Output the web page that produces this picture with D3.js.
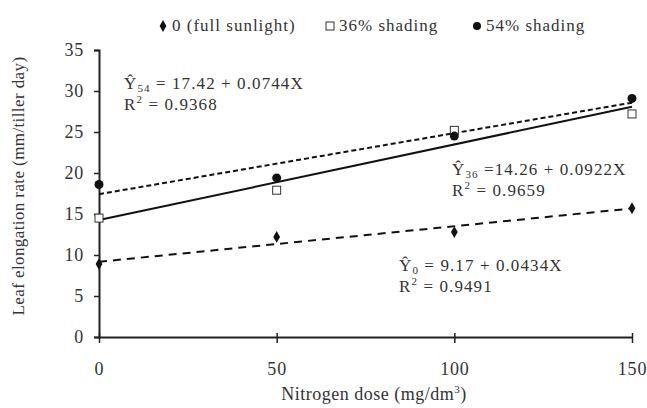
<!doctype html>
<html lang="en">
<head>
<meta charset="UTF-8">
<title>Leaf elongation rate</title>
<script src="https://d3js.org/d3.v7.min.js"></script>
<style>
  body { margin: 0; background: #fff; }
  svg text { font-family: "Liberation Serif", "Times New Roman", Times, serif !important; fill: #333; }
</style>
</head>
<body>
<script>
  // data
  var doses = [0, 50, 100, 150];
  var sunValues = [8.9, 12.2, 12.8, 15.7];
  var shade36Values = [14.5, 17.9, 25.2, 27.2];
  var shade54Values = [18.6, 19.4, 24.5, 29.1];
  var seriesNames = ["0 (full sunlight)", "36% shading", "54% shading"];
  var intercepts = [9.17, 14.26, 17.42];
  var slopes = [0.0434, 0.0922, 0.0744];
  var r2Values = ["0.9491", "0.9659", "0.9368"];
  var eqSubs = ["0", "36", "54"];
  var yTicks = [0, 5, 10, 15, 20, 25, 30, 35];
  var xTicks = [0, 50, 100, 150];

  var width = 647, height = 408;
  var fs = "17px", fsSmall = "11px";
  var svg = d3.select("body").append("svg")
      .attr("width", width)
      .attr("height", height);

  var x = d3.scaleLinear().domain([0, 150]).range([99, 632]);
  var y = d3.scaleLinear().domain([0, 35]).range([337, 50]);

  // axes
  var axisY = d3.axisLeft(y).tickValues(yTicks).tickSize(5).tickPadding(10);
  var axisX = d3.axisBottom(x).tickValues(xTicks).tickSize(0).tickPadding(25);

  var gy = svg.append("g").attr("transform", "translate(" + x(0) + ",0)").call(axisY);
  var gx = svg.append("g").attr("transform", "translate(0," + y(0) + ")").call(axisX);
  [gx, gy].forEach(function(g) {
    g.attr("font-family", null);
    g.select(".domain").attr("stroke", "#222").attr("stroke-width", 2);
    g.selectAll(".tick line").attr("stroke", "#222").attr("stroke-width", 1.5);
    g.selectAll(".tick text").style("font-size", "18px").style("letter-spacing", "0.8px").attr("fill", "#444");
  });
  // small x tick marks crossing the axis
  gx.selectAll(".tick").append("line")
      .attr("y1", -4).attr("y2", 6)
      .attr("stroke", "#222").attr("stroke-width", 1.5);

  // axis titles
  svg.append("text")
      .attr("transform", "translate(24,186) rotate(-90)")
      .attr("text-anchor", "middle")
      .style("font-size", fs)
      .style("letter-spacing", "0.4px")
      .text("Leaf elongation rate (mm/tiller day)");

  var xt = svg.append("text")
      .attr("x", 374).attr("y", 400)
      .attr("text-anchor", "middle")
      .style("font-size", "18px")
      .style("letter-spacing", "0.5px");
  xt.append("tspan").text("Nitrogen dose (mg/dm");
  xt.append("tspan").attr("dy", -7).style("font-size", fsSmall).text("3");
  xt.append("tspan").attr("dy", 7).text(")");

  // regression lines
  var lineStyles = [
    {dash: "8,6", width: 2},
    {dash: null, width: 2},
    {dash: "5,3", width: 2}
  ];
  var fitLine = d3.line()
      .x(function(d) { return x(d[0]); })
      .y(function(d) { return y(d[1]); });

  intercepts.forEach(function(a, i) {
    var pts = [0, 150].map(function(d) { return [d, a + slopes[i] * d]; });
    svg.append("path")
        .datum(pts)
        .attr("d", fitLine)
        .attr("fill", "none")
        .attr("stroke", "#111")
        .attr("stroke-width", lineStyles[i].width)
        .attr("stroke-dasharray", lineStyles[i].dash);
  });

  // markers
  var diamond = d3.symbol().type(d3.symbolDiamond).size(40);
  svg.selectAll(".sun")
      .data(sunValues)
      .enter().append("path")
      .attr("d", diamond)
      .attr("transform", function(d, i) { return "translate(" + x(doses[i]) + "," + y(d) + ")"; })
      .attr("fill", "#111");

  svg.selectAll(".s36")
      .data(shade36Values)
      .enter().append("rect")
      .attr("x", function(d, i) { return x(doses[i]) - 4; })
      .attr("y", function(d) { return y(d) - 4; })
      .attr("width", 8).attr("height", 8)
      .attr("fill", "#fff")
      .attr("stroke", "#333")
      .attr("stroke-width", 1);

  svg.selectAll(".s54")
      .data(shade54Values)
      .enter().append("circle")
      .attr("cx", function(d, i) { return x(doses[i]); })
      .attr("cy", function(d) { return y(d); })
      .attr("r", 4.5)
      .attr("fill", "#111");

  // equations
  var eqPos = [[399, 271], [452, 175], [124, 89]];
  var eqSep = [" = ", " =", " = "];
  eqSubs.forEach(function(s, i) {
    var t = svg.append("text")
        .attr("x", eqPos[i][0]).attr("y", eqPos[i][1])
        .style("font-size", fs)
        .style("letter-spacing", "1.1px");
    t.append("tspan").text("\u0176");
    t.append("tspan").attr("dy", 3).style("font-size", fsSmall).text(s);
    t.append("tspan").attr("dy", -3).text(eqSep[i] + intercepts[i].toFixed(2) + " + " + slopes[i].toFixed(4) + "X");

    var r = svg.append("text")
        .attr("x", eqPos[i][0]).attr("y", eqPos[i][1] + 21)
        .style("font-size", fs)
        .style("letter-spacing", "1.1px");
    r.append("tspan").text("R");
    r.append("tspan").attr("dy", -7).style("font-size", fsSmall).text("2");
    r.append("tspan").attr("dy", 7).text(" = " + r2Values[i]);
  });

  // legend
  var legX = [163, 330, 477];
  var lg = svg.append("g");
  lg.append("path").attr("d", diamond).attr("transform", "translate(" + legX[0] + ",26)").attr("fill", "#111");
  lg.append("rect").attr("x", legX[1] - 4).attr("y", 22).attr("width", 8).attr("height", 8)
      .attr("fill", "#fff").attr("stroke", "#333");
  lg.append("circle").attr("cx", legX[2]).attr("cy", 26).attr("r", 4).attr("fill", "#111");
  seriesNames.forEach(function(n, i) {
    lg.append("text")
        .attr("x", legX[i] + 9).attr("y", 31)
        .style("font-size", fs)
        .style("letter-spacing", "1px")
        .text(n);
  });
</script>
</body>
</html>
